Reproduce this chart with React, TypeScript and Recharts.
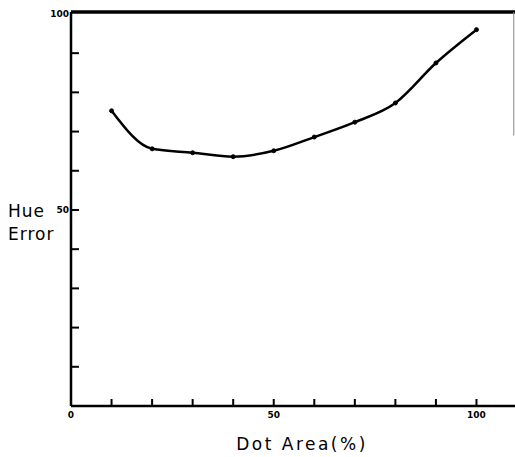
import React from 'react';
import { LineChart, Line, XAxis, YAxis, ReferenceLine } from 'recharts';

const dotArea = [10, 20, 30, 40, 50, 60, 70, 80, 90, 100];
const hueError = [75.3, 65.6, 64.6, 63.6, 65.1, 68.6, 72.4, 77.3, 87.5, 96];
const xTicks = [0, 10, 20, 30, 40, 50, 60, 70, 80, 90, 100];
const yTicks = [10, 20, 30, 40, 50, 60, 70, 80, 90, 100];
const xLabeled = [0, 50, 100];
const yLabeled = [50, 100];

const data = dotArea.map((x, i) => ({ x, y: hueError[i] }));

const FONT = '"DejaVu Sans", sans-serif';

const XTick = (props: any) => {
  const { x, y, payload } = props;
  const v = payload.value;
  return (
    <g>
      {v !== 0 && <line x1={x} y1={y} x2={x} y2={y - 7} stroke="#000" strokeWidth={2} />}
      {xLabeled.includes(v) && (
        <text x={x} y={y + 12} textAnchor="middle" fontSize={9} fontWeight="bold" fontFamily={FONT} fill="#000">
          {v}
        </text>
      )}
    </g>
  );
};

const YTick = (props: any) => {
  const { x, y, payload } = props;
  const v = payload.value;
  return (
    <g>
      {v !== 100 && <line x1={x} y1={y} x2={x + 8} y2={y} stroke="#000" strokeWidth={2} />}
      {yLabeled.includes(v) && (
        <text x={x - 2} y={y + 3} textAnchor="end" fontSize={9} fontWeight="bold" fontFamily={FONT} fill="#000">
          {v}
        </text>
      )}
    </g>
  );
};

const YLabel = () => (
  <text fontFamily={FONT} fontSize={17} fill="#000" letterSpacing={1}>
    <tspan x={8} y={217}>Hue</tspan>
    <tspan x={8} y={240}>Error</tspan>
  </text>
);

const XLabel = () => (
  <text x={302} y={450} textAnchor="middle" fontFamily={FONT} fontSize={17} fill="#000" letterSpacing={2.5}>
    Dot Area(%)
  </text>
);

export default function App() {
  return (
    <div style={{ position: 'absolute', left: 0, top: 0, background: '#fff' }}>
      <LineChart width={515} height={457} data={data} margin={{ top: 12, right: 0, bottom: 21, left: 31 }}>
        <XAxis
          dataKey="x"
          type="number"
          domain={[0, 109.5]}
          ticks={xTicks}
          interval={0}
          tickSize={0}
          tickMargin={0}
          tickLine={false}
          tick={<XTick />}
          axisLine={{ stroke: '#000', strokeWidth: 2.5 }}
          height={30}
          label={<XLabel />}
        />
        <YAxis
          type="number"
          domain={[0, 100.5]}
          ticks={yTicks}
          interval={0}
          tickSize={0}
          tickMargin={0}
          tickLine={false}
          tick={<YTick />}
          axisLine={{ stroke: '#000', strokeWidth: 2.5 }}
          width={40}
          label={<YLabel />}
        />
        <ReferenceLine y={100.5} stroke="#000" strokeWidth={3.5} />
        <ReferenceLine segment={[{ x: 109.2, y: 100.5 }, { x: 109.2, y: 69 }]} stroke="#888" strokeWidth={1} />
        <Line
          type="monotone"
          dataKey="y"
          stroke="#000"
          strokeWidth={2.5}
          dot={{ r: 2, fill: '#000', stroke: '#000', strokeWidth: 1 }}
          isAnimationActive={false}
        />
      </LineChart>
    </div>
  );
}
